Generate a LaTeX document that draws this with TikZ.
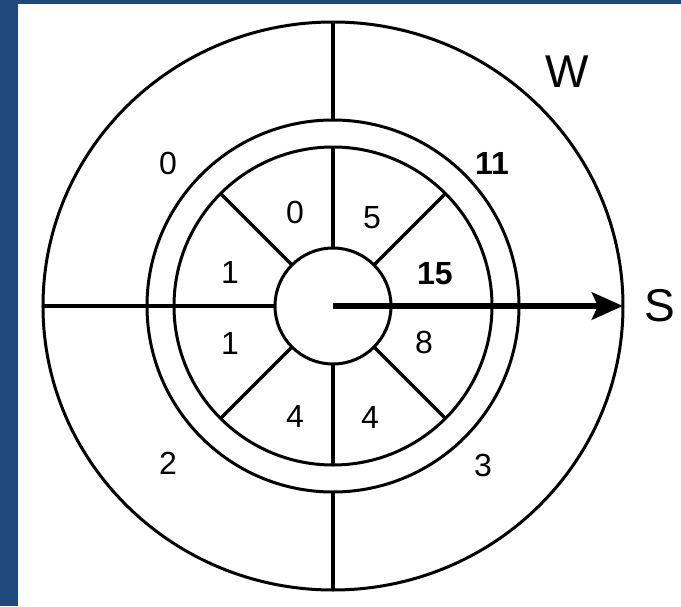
\documentclass[tikz,border=0pt]{standalone}
\usepackage{fontspec}
\setmainfont{Liberation Sans}
\usetikzlibrary{arrows.meta}
\definecolor{frameblue}{HTML}{1F497D}

\begin{document}
\begin{tikzpicture}[x=1pt, y=1pt,
    ring/.style={line width=3pt},
    spoke/.style={line width=3.3pt},
    lbl/.style={font=\fontsize{32}{36}\selectfont, inner sep=0pt},
    biglbl/.style={font=\fontsize{46}{50}\selectfont, inner sep=0pt}]
  \fill[frameblue] (-333,-300) rectangle (348,306);
  \fill[white] (-315,-300) rectangle (348,302);
  \useasboundingbox (-333,-300) rectangle (348,306);
  \coordinate (c) at (0,0);
  \draw[ring] (c) ellipse [x radius=290, y radius=284];
  \draw[ring] (c) circle [radius=186];
  \draw[ring] (c) circle [radius=159];
  \draw[ring] (c) circle [radius=58];
  % outer quarters
  \draw[spoke] (0,186) -- (0,284);
  \draw[spoke] (0,-186) -- (0,-284);
  \draw[spoke] (-58,0) -- (-290,0);
  \foreach \a in {45,90,135,225,270,315}
    \draw[spoke] (\a:58) -- (\a:159);
  \coordinate (tip) at (290,0);
  \draw[line width=6.5pt, -{Stealth[length=31pt,width=27pt,inset=6pt]}] (c) -- (tip);
  \node[biglbl] (w) at (234,234) {W};
  \node[biglbl] (s) at (327,0) {S};
  \node[lbl] (out0) at (-165,143) {0};
  \node[lbl] (out11) at (159,143) {\bfseries 11};
  \node[lbl] (out2) at (-165,-157) {2};
  \node[lbl] (out3) at (150,-159) {3};
  \node[lbl] (in0) at (-38,94) {0};
  \node[lbl] (in5) at (39,88) {5};
  \node[lbl] (in15) at (102,32) {\bfseries 15};
  \node[lbl] (in8) at (91,-36) {8};
  \node[lbl] (in4r) at (37,-111) {4};
  \node[lbl] (in4l) at (-38,-110) {4};
  \node[lbl] (in1l) at (-103,-37) {1};
  \node[lbl] (in1u) at (-103,34) {1};
\end{tikzpicture}
\end{document}
